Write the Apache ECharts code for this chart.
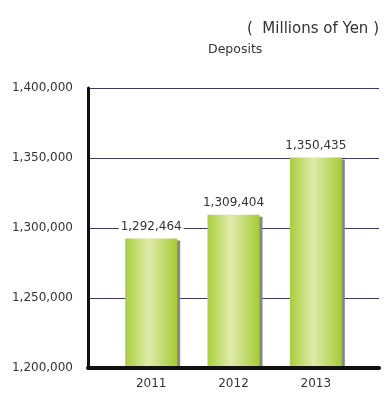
<!DOCTYPE html>
<html>
<head>
<meta charset="utf-8">
<script src="https://cdn.jsdelivr.net/npm/echarts@6/dist/echarts.min.js"></script>
<style>html,body{margin:0;padding:0;background:#fff;}#c{width:389px;height:394px;}</style>
</head>
<body>
<div id="c"></div>
<script>
var categories = ['2011', '2012', '2013'];
var deposits = [1292464, 1309404, 1350435];
var yTicks = [1200000, 1250000, 1300000, 1350000, 1400000];
var unitText = '(  Millions of Yen )';
var titleText = 'Deposits';

var chart = echarts.init(document.getElementById('c'), null, {renderer: 'canvas'});
var font = 'DejaVu Sans';
var fmt = function (v) { return Number(v).toLocaleString('en-US'); };
var yMin = yTicks[0], yMax = yTicks[yTicks.length - 1], yStep = yTicks[1] - yTicks[0];

var barColor = {
  type: 'linear', x: 0, y: 0, x2: 1, y2: 0,
  colorStops: [
    {offset: 0, color: '#a9cf3c'},
    {offset: 0.45, color: '#e0ebab'},
    {offset: 1, color: '#a6cc36'}
  ]
};

chart.setOption({
  animation: false,
  title: [
    {text: unitText, right: 5, top: 17, textStyle: {fontFamily: font, fontSize: 15, fontWeight: 'normal', color: '#333'}},
    {text: titleText, left: 203, top: 38, textStyle: {fontFamily: font, fontSize: 12.5, fontWeight: 'normal', color: '#333'}}
  ],
  grid: [
    {left: 88, right: 10, top: 88, bottom: 26},
    {left: 110, right: 32, top: 88, bottom: 26}
  ],
  xAxis: [
    {gridIndex: 0, type: 'category', data: categories, z: 10, axisLine: {show: true, lineStyle: {color: '#111', width: 4}}, axisTick: {show: false}, axisLabel: {show: false}, splitLine: {show: false}},
    {gridIndex: 1, type: 'category', data: categories, axisLine: {show: false}, axisTick: {show: false},
     axisLabel: {margin: 10, fontFamily: font, fontSize: 12, color: '#333'}}
  ],
  yAxis: [
    {gridIndex: 0, type: 'value', min: yMin, max: yMax, interval: yStep,
     axisLine: {show: true, lineStyle: {color: '#111', width: 3}}, axisTick: {show: false},
     axisLabel: {margin: 15, fontFamily: font, fontSize: 12, color: '#333', formatter: fmt},
     splitLine: {show: true, lineStyle: {color: '#3a3a6e', width: 1}}},
    {gridIndex: 1, type: 'value', min: yMin, max: yMax, interval: yStep, show: false}
  ],
  series: [{
    type: 'bar', xAxisIndex: 1, yAxisIndex: 1, data: deposits, barWidth: 52,
    itemStyle: {color: barColor, shadowColor: '#888', shadowOffsetX: 3, shadowOffsetY: 2, shadowBlur: 0},
    label: {show: true, position: 'top', distance: 5, formatter: function (p) { return fmt(p.value); },
      fontFamily: font, fontSize: 12, color: '#333', backgroundColor: '#fff', padding: [1, 2, 1, 2]}
  }]
});
</script>
</body>
</html>
